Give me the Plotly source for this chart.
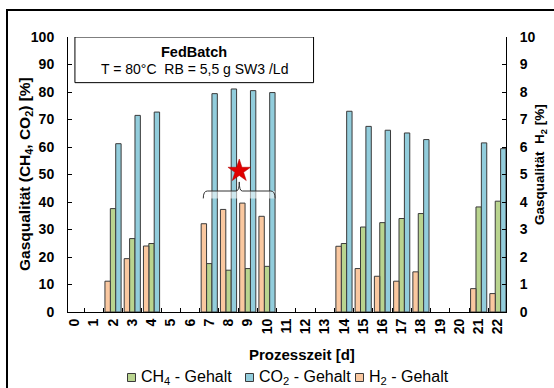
import plotly.graph_objects as go

# Measurement days and gas composition
days = [2, 3, 4, 7, 8, 9, 10, 14, 15, 16, 17, 18, 21, 22]
ch4 = [37.6, 26.7, 24.9, 17.6, 15.2, 15.8, 16.6, 24.9, 30.9, 32.5, 34.0, 35.8, 38.2, 40.3]
co2 = [61.2, 71.5, 72.7, 79.4, 81.1, 80.5, 79.8, 73.0, 67.5, 66.1, 65.1, 62.7, 61.5, 59.4]
h2 = [1.12, 1.94, 2.40, 3.21, 3.73, 3.96, 3.48, 2.39, 1.58, 1.30, 1.12, 1.46, 0.85, 0.67]

day_ticks = list(range(0, 23))
day_labels = [str(d) for d in day_ticks]

series_names = ["CH<sub>4</sub> - Gehalt", "CO<sub>2</sub> - Gehalt", "H<sub>2</sub> - Gehalt"]
series_colors = ["#B9D48F", "#92CDDC", "#FAC8A0"]

# Marker for the highlighted phase (days 7-10)
star_day = [8.56]
star_level = [51.3]

FONT = "Liberation Sans, Arial, sans-serif"
EDGE = dict(color="#3a3a3a", width=1)
W = 0.28

# plot-area geometry in pixels (used for the paper-anchored decorations)
L, R, T, B = 68, 48, 37, 76
FW, FH = 554, 388
PW, PH = FW - L - R, FH - T - B


def px(xp):
    return (xp - L) / PW


def py(yp):
    return (FH - B - yp) / PH


fig = go.Figure()
fig.add_trace(go.Bar(x=days, y=ch4, name=series_names[0], width=W, offset=-0.14,
                     marker=dict(color=series_colors[0], line=EDGE), yaxis="y"))
fig.add_trace(go.Bar(x=days, y=co2, name=series_names[1], width=W, offset=0.14,
                     marker=dict(color=series_colors[1], line=EDGE), yaxis="y"))
fig.add_trace(go.Bar(x=days, y=h2, name=series_names[2], width=W, offset=-0.42,
                     marker=dict(color=series_colors[2], line=EDGE), yaxis="y2"))
fig.add_trace(go.Scatter(x=star_day, y=star_level, mode="markers",
                         marker=dict(symbol="star", size=17, color="#E00000",
                                     line=dict(color="#B00000", width=0.5)),
                         yaxis="y", hoverinfo="skip"))

tickfont = dict(family=FONT, size=14, color="black", weight="bold")

fig.update_layout(
    width=FW, height=FH,
    margin=dict(l=L, r=R, t=T, b=B, pad=0),
    paper_bgcolor="white", plot_bgcolor="white",
    barmode="overlay", showlegend=False,
    font=dict(family=FONT, size=14, color="black"),
    xaxis=dict(
        range=[-0.34, 22.42], tickvals=day_ticks, ticktext=day_labels,
        tickangle=-90, ticks="", tickfont=tickfont,
        minor=dict(tick0=0.5, dtick=1, ticks="inside", ticklen=4, tickcolor="black"),
        showline=True, linecolor="black", linewidth=1, showgrid=False, zeroline=False,
    ),
    yaxis=dict(
        range=[0, 100], dtick=10, ticks="inside", ticklen=4, tickcolor="black",
        tickfont=tickfont, ticklabelstandoff=10,
        showline=True, linecolor="black", linewidth=1, showgrid=False, zeroline=False,
    ),
    yaxis2=dict(
        range=[0, 10], dtick=1, overlaying="y", side="right", anchor="x",
        ticks="inside", ticklen=4, tickcolor="black",
        tickfont=tickfont, ticklabelstandoff=10,
        showline=True, linecolor="black", linewidth=1, showgrid=False, zeroline=False,
    ),
)

shapes = [
    # outer frame of the figure
    dict(type="rect", xref="paper", yref="paper", x0=px(7), x1=px(570), y0=py(400), y1=py(10),
         line=dict(color="black", width=2), fillcolor="rgba(0,0,0,0)", layer="above"),
    # info box
    dict(type="rect", xref="x", yref="y", x0=0.02, x1=12.42, y0=83.4, y1=100,
         line=dict(color="black", width=1), fillcolor="white", layer="above"),
    # light band behind the bracket
    dict(type="rect", xref="x", yref="y", x0=6.69, x1=10.42, y0=41.3, y1=44.0,
         line=dict(width=0), fillcolor="rgba(255,255,255,0.55)", layer="above"),
    # bracket over days 7-10
    dict(type="path", xref="x", yref="y", layer="above",
         path="M 6.69,41.3 Q 6.69,44.0 6.9,44.0 L 8.4,44.0 Q 8.56,44.0 8.56,47.3 "
              "Q 8.56,44.0 8.72,44.0 L 10.2,44.0 Q 10.42,44.0 10.42,41.3",
         line=dict(color="#333333", width=1)),
]

# legend row below the axis title
legend_sym_x = [131.5, 249.5, 359.5]
legend_y = 377.5
for name, color, sx in zip(series_names, series_colors, legend_sym_x):
    shapes.append(dict(type="rect", xref="paper", yref="paper",
                       x0=px(sx - 4), x1=px(sx + 4), y0=py(legend_y + 4), y1=py(legend_y - 4),
                       line=dict(color="#3a3a3a", width=1), fillcolor=color))
    fig.add_annotation(x=px(sx + 7), y=py(legend_y), xref="paper", yref="paper",
                       xanchor="left", yanchor="middle", text=name, showarrow=False,
                       font=dict(family=FONT, size=16, color="black"))
fig.update_layout(shapes=shapes)

# axis titles
fig.add_annotation(x=px(25.5), y=0.5, xref="paper", yref="paper", textangle=-90,
                   xanchor="center", yanchor="middle", showarrow=False,
                   text="<b>Gasqualität (CH<sub>4</sub>, CO<sub>2</sub>) [%]</b>",
                   font=dict(family=FONT, size=15.5, color="black"))
fig.add_annotation(x=px(540), y=py(165), xref="paper", yref="paper", textangle=-90,
                   xanchor="center", yanchor="middle", showarrow=False,
                   text="<b>Gasqualität  H<sub>2</sub> [%]</b>",
                   font=dict(family=FONT, size=13.5, color="black"))
fig.add_annotation(x=px(302), y=py(354), xref="paper", yref="paper",
                   xanchor="center", yanchor="middle", showarrow=False,
                   text="<b>Prozesszeit [d]</b>",
                   font=dict(family=FONT, size=15, color="black"))

# info box text
fig.add_annotation(x=6.22, y=94.4, xref="x", yref="y", text="<b>FedBatch</b>",
                   showarrow=False, font=dict(family=FONT, size=14.5, color="black"))
fig.add_annotation(x=6.22, y=88.4, xref="x", yref="y",
                   text="T = 80°C  RB = 5,5 g SW3 /Ld",
                   showarrow=False, font=dict(family=FONT, size=14, color="black"))

fig.write_html("out.html")
